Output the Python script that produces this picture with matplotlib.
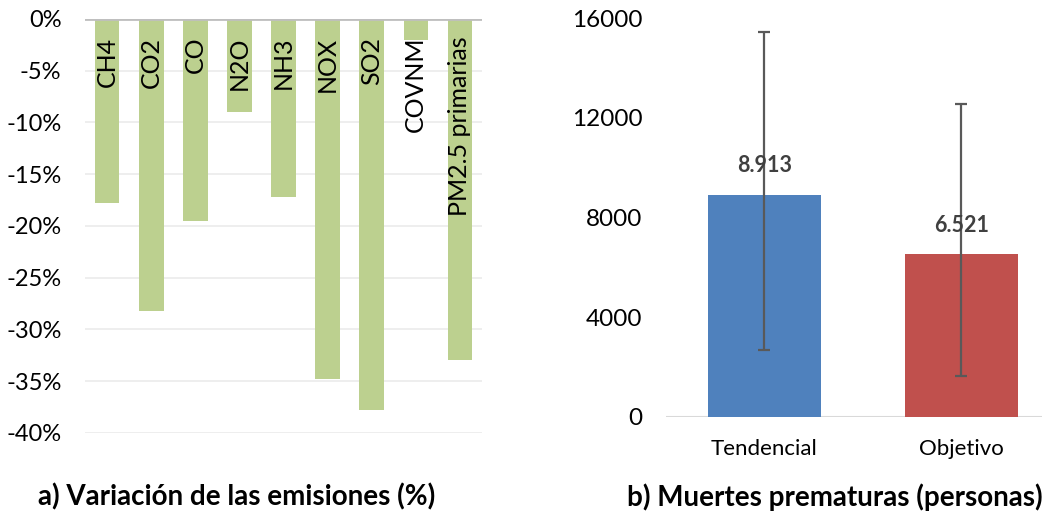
import numpy as np
import matplotlib.pyplot as plt

plt.rcParams['font.family'] = ['Lato', 'DejaVu Sans']

# a) emission change (%)
gases = ['CH4', 'CO2', 'CO', 'N2O', 'NH3', 'NOX', 'SO2', 'COVNM', 'PM2.5 primarias']
variacion = [-17.8, -28.2, -19.5, -9.0, -17.2, -34.8, -37.8, -2.0, -32.9]

# b) premature deaths
escenarios = ['Tendencial', 'Objetivo']
muertes = [8913, 6521]
err_low = [2690, 1630]
err_high = [15430, 12560]
etiquetas = ['8.913', '6.521']

fig = plt.figure(figsize=(10.42, 5.29), dpi=100)

# left panel
ax1 = fig.add_axes([0.0816, 0.1815, 0.381, 0.7826])
x = np.arange(len(gases))
ax1.bar(x, variacion, width=0.56, color='#bcd08f', zorder=2)
ax1.set_ylim(-40, 0)
ax1.set_xlim(-0.5, len(gases) - 0.5)
ax1.set_yticks(np.arange(-40, 1, 5))
ax1.set_yticklabels(['%d%%' % v for v in np.arange(-40, 1, 5)])
for v in np.arange(-40, 0, 5):
    ax1.axhline(v, color='#ebebeb', lw=1.2, zorder=1)
ax1.axhline(0, color='#bfbfbf', lw=2, zorder=3)
for xi, g in zip(x, gases):
    ax1.text(xi, -1.7, g, rotation=90, ha='center', va='top', fontsize=18, color='black', zorder=4)
ax1.set_xticks([])
for s in ax1.spines.values():
    s.set_visible(False)
ax1.tick_params(axis='y', length=0, pad=17, labelsize=17)

# right panel
ax2 = fig.add_axes([0.639, 0.2123, 0.361, 0.7531])
x2 = np.arange(len(escenarios))
yerr = [np.array(muertes) - np.array(err_low), np.array(err_high) - np.array(muertes)]
ax2.bar(x2, muertes, width=0.572, color=['#4f81bd', '#c0504d'], zorder=2)
ax2.errorbar(x2, muertes, yerr=yerr, fmt='none', ecolor='#595959', elinewidth=1.6,
             capsize=4, capthick=1.6, zorder=3)
for xi, v, t in zip(x2, muertes, etiquetas):
    ax2.text(xi, v + 750, t, ha='center', va='bottom', fontsize=15.5, fontweight='bold', color='#404040', zorder=4)
ax2.set_ylim(0, 16000)
ax2.set_xlim(-0.5, 1.41)
ax2.set_yticks([0, 4000, 8000, 12000, 16000])
ax2.set_xticks(x2)
ax2.set_xticklabels(escenarios)
for s in ax2.spines.values():
    s.set_visible(False)
ax2.axhline(0, color='#d9d9d9', lw=1.5, zorder=1)
ax2.tick_params(axis='y', length=0, pad=17, labelsize=17.5)
ax2.tick_params(axis='x', length=0, pad=16, labelsize=16)

fig.text(0.227, 0.06, 'a) Variación de las emisiones (%)', ha='center', va='center', fontsize=20, fontweight='bold')
fig.text(0.801, 0.06, 'b) Muertes prematuras (personas)', ha='center', va='center', fontsize=20, fontweight='bold')

fig.savefig('out.png', dpi=100)
